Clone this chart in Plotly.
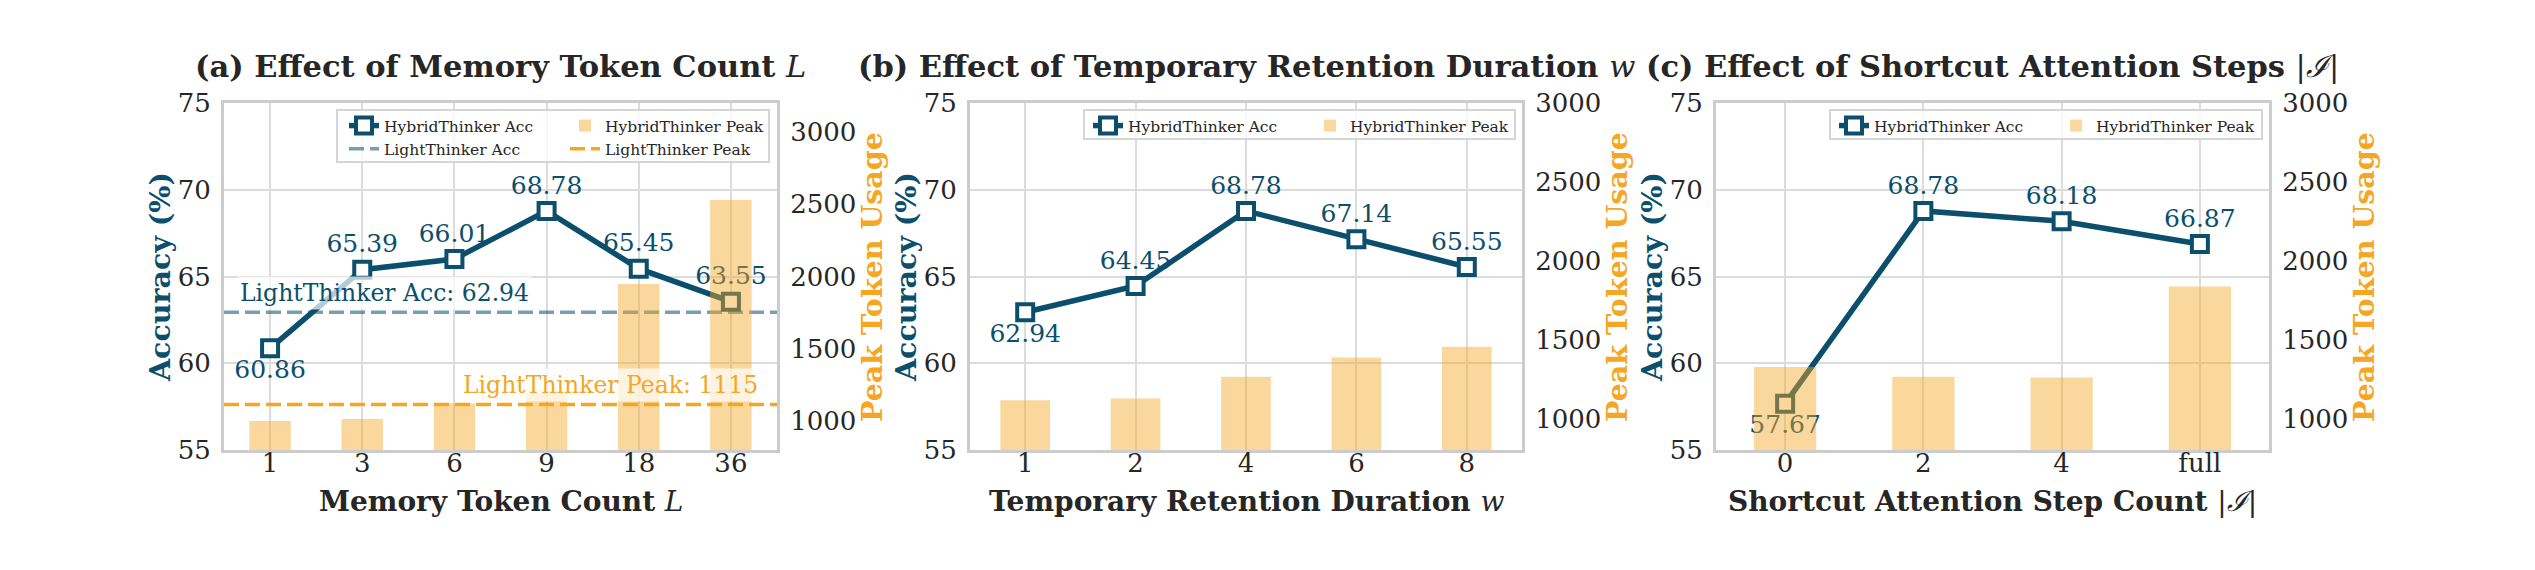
import plotly.graph_objects as go

W, H = 2535, 570
BLUE = "#0B4F6C"
LT_BLUE = "rgba(11,79,108,0.55)"
ORANGE = "#F5A623"
BAR_FILL = "rgba(245,166,35,0.45)"
GRID = "#dcdcdc"
SPINE = "#cccccc"
TXT = "#262626"
FONT = "DejaVu Serif"

# ---------------- data ----------------
mem_cats = ["1", "3", "6", "9", "18", "36"]
mem_acc = [60.86, 65.39, 66.01, 68.78, 65.45, 63.55]
mem_peak = [1000, 1015, 1123, 1195, 1948, 2529]

ret_cats = ["1", "2", "4", "6", "8"]
ret_acc = [62.94, 64.45, 68.78, 67.14, 65.55]
ret_peak = [1116, 1127, 1265, 1387, 1455]

sc_cats = ["0", "2", "4", "full"]
sc_acc = [57.67, 68.78, 68.18, 66.87]
sc_peak = [1327, 1265, 1259, 1836]

lt_acc = 62.94
lt_peak = 1115

titles = [
    "<b>(a) Effect of Memory Token Count </b><i>L</i>",
    "<b>(b) Effect of Temporary Retention Duration </b><i>w</i>",
    "<b>(c) Effect of Shortcut Attention Steps </b>|<i>ℐ</i>|",
]
xlabels = [
    "<b>Memory Token Count </b><i>L</i>",
    "<b>Temporary Retention Duration </b><i>w</i>",
    "<b>Shortcut Attention Step Count </b>|<i>ℐ</i>|",
]

# ---------------- layout geometry (pixels) ----------------
PANELS_PX = [(224, 777), (970, 1522), (1716, 2269)]
TOP_PX, BOT_PX = 103, 450
RIGHT_MAX = [3200, 3000, 3000]
RIGHT_MIN = 800
# legend boxes (left, right, top, bottom) and column x positions
LEG_BOX = [(337, 769, 110, 162), (1084, 1515, 110, 139), (1830, 2262, 110, 139)]
LEG_COLS = [(344, 565), (1088, 1310), (1834, 2056)]


def xp(px):
    return px / W


def yp(py):
    return 1 - py / H


panels = [
    dict(cats=mem_cats, acc=mem_acc, peak=mem_peak, baseline=True),
    dict(cats=ret_cats, acc=ret_acc, peak=ret_peak, baseline=False),
    dict(cats=sc_cats, acc=sc_acc, peak=sc_peak, baseline=False),
]

fig = go.Figure()
annotations = []
shapes = []
layout_extra = {}
leg_font = dict(family=FONT, size=15.5, color=TXT)

for i, p in enumerate(panels):
    cats, acc, peak = p["cats"], p["acc"], p["peak"]
    n = len(cats)
    xs = list(range(n))
    xa = "x" if i == 0 else f"x{i + 1}"
    yl = "y" if i == 0 else f"y{2 * i + 1}"
    yr = f"y{2 * i + 2}"
    leg_line = "legend" if i == 0 else f"legend{2 * i + 1}"
    leg_bar = f"legend{2 * i + 2}"

    # accuracy line
    fig.add_trace(go.Scatter(
        x=xs, y=acc, xaxis=xa, yaxis=yl, mode="lines+markers",
        name="HybridThinker Acc", legend=leg_line,
        line=dict(color=BLUE, width=5.5),
        marker=dict(symbol="square", size=16, color="white",
                    line=dict(color=BLUE, width=4)),
    ))
    # value labels
    positions = ["bottom center"] + ["top center"] * (n - 1)
    fig.add_trace(go.Scatter(
        x=xs, y=acc, xaxis=xa, yaxis=yl, mode="markers+text",
        text=[f"{v:.2f}" for v in acc], textposition=positions,
        textfont=dict(family=FONT, size=25, color=BLUE),
        marker=dict(size=16, color="rgba(0,0,0,0)"),
        showlegend=False, hoverinfo="skip",
    ))
    if p["baseline"]:
        fig.add_trace(go.Scatter(
            x=[-0.5, n - 0.5], y=[lt_acc, lt_acc], xaxis=xa, yaxis=yl,
            mode="lines", name="LightThinker Acc", legend=leg_line,
            line=dict(color=LT_BLUE, width=3.5, dash="15px,6px"),
        ))
    # peak bars
    fig.add_trace(go.Bar(
        x=xs, y=peak, xaxis=xa, yaxis=yr, width=0.45,
        name="HybridThinker Peak", legend=leg_bar,
        marker=dict(color=BAR_FILL, line=dict(width=0)),
    ))
    if p["baseline"]:
        fig.add_trace(go.Scatter(
            x=[-0.5, n - 0.5], y=[lt_peak, lt_peak], xaxis=xa, yaxis=yr,
            mode="lines", name="LightThinker Peak", legend=leg_bar,
            line=dict(color=ORANGE, width=3.5, dash="15px,6px"),
        ))

    left, right = PANELS_PX[i]
    xdom = [xp(left), xp(right)]
    ydom = [yp(BOT_PX), yp(TOP_PX)]
    axis_common = dict(showline=True, linecolor=SPINE, linewidth=3, mirror=True,
                       ticks="", zeroline=False, automargin=False,
                       tickfont=dict(family=FONT, size=26, color=TXT))
    xkey = "xaxis" if i == 0 else f"xaxis{i + 1}"
    ylkey = "yaxis" if i == 0 else f"yaxis{2 * i + 1}"
    yrkey = f"yaxis{2 * i + 2}"
    layout_extra[xkey] = dict(
        domain=xdom, anchor=yl, range=[-0.5, n - 0.5],
        tickmode="array", tickvals=xs, ticktext=cats,
        showgrid=True, gridcolor=GRID, gridwidth=2,
        ticklabelstandoff=-12, **axis_common)
    layout_extra[ylkey] = dict(
        domain=ydom, anchor=xa, range=[55, 75], dtick=5, tick0=55,
        showgrid=True, gridcolor=GRID, gridwidth=2,
        ticklabelstandoff=5, **axis_common)
    layout_extra[yrkey] = dict(
        overlaying=yl, side="right", anchor=xa,
        range=[RIGHT_MIN, RIGHT_MAX[i]], tickmode="array",
        tickvals=[1000, 1500, 2000, 2500, 3000],
        showgrid=False, ticklabelstandoff=5, **axis_common)

    cx = (left + right) / 2
    annotations.append(dict(text=titles[i], x=xp(cx), y=yp(66), xref="paper", yref="paper",
                            xanchor="center", yanchor="middle", showarrow=False,
                            font=dict(family=FONT, size=30.5, color=TXT)))
    annotations.append(dict(text=xlabels[i], x=xp(cx), y=yp(501), xref="paper", yref="paper",
                            xanchor="center", yanchor="middle", showarrow=False,
                            font=dict(family=FONT, size=28, color=TXT)))
    annotations.append(dict(text="<b>Accuracy (%)</b>", x=xp(left - 64), y=yp(277),
                            xref="paper", yref="paper", textangle=-90,
                            xanchor="center", yanchor="middle", showarrow=False,
                            font=dict(family=FONT, size=28.5, color=BLUE)))
    annotations.append(dict(text="<b>Peak Token Usage</b>", x=xp(right + 95), y=yp(277),
                            xref="paper", yref="paper", textangle=-90,
                            xanchor="center", yanchor="middle", showarrow=False,
                            font=dict(family=FONT, size=28.5, color=ORANGE)))
    if p["baseline"]:
        annotations.append(dict(text=f"LightThinker Acc: {lt_acc:.2f}", x=-0.36, y=lt_acc,
                                xref=xa, yref=yl, xanchor="left", yanchor="bottom",
                                yshift=2, showarrow=False, borderpad=2,
                                bgcolor="rgba(255,255,255,0.7)",
                                font=dict(family=FONT, size=23.5, color=BLUE)))
        annotations.append(dict(text=f"LightThinker Peak: {lt_peak}", x=n - 1 + 0.33, y=lt_peak,
                                xref=xa, yref=yr, xanchor="right", yanchor="bottom",
                                yshift=2, showarrow=False, borderpad=2,
                                bgcolor="rgba(255,255,255,0.7)",
                                font=dict(family=FONT, size=23.5, color=ORANGE)))

    # legend frame + two legend columns
    bl, br, bt, bb = LEG_BOX[i]
    shapes.append(dict(type="rect", xref="paper", yref="paper", layer="above",
                       x0=xp(bl), x1=xp(br), y0=yp(bb), y1=yp(bt),
                       fillcolor="rgba(255,255,255,0.8)", line=dict(color="#d5d5d5", width=2)))
    c1, c2 = LEG_COLS[i]
    for key, cxp in ((leg_line, c1), (leg_bar, c2)):
        layout_extra[key] = dict(x=xp(cxp), y=yp(bt - 1), xanchor="left", yanchor="top",
                                 orientation="v", bgcolor="rgba(0,0,0,0)", borderwidth=0,
                                 font=leg_font, itemwidth=30, tracegroupgap=0)

fig.update_layout(
    width=W, height=H, autosize=False,
    margin=dict(l=0, r=0, t=0, b=0),
    paper_bgcolor="white", plot_bgcolor="rgba(0,0,0,0)",
    font=dict(family=FONT, color=TXT),
    barmode="overlay",
    annotations=annotations,
    shapes=shapes,
    showlegend=True,
    **layout_extra,
)

fig.write_html("out.html")
